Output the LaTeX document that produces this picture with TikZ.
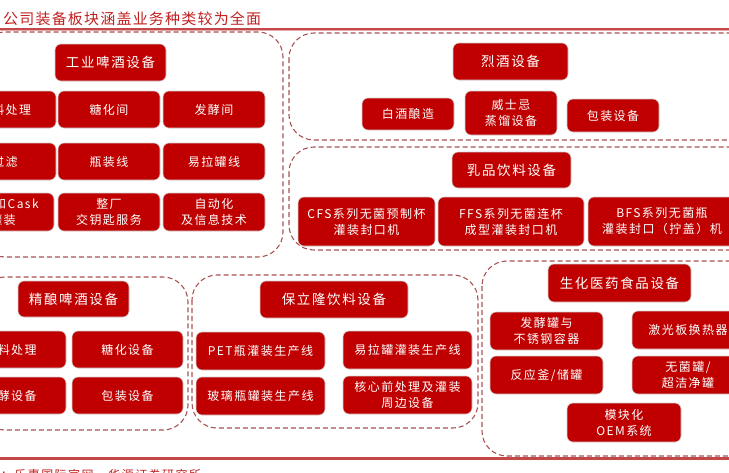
\documentclass[tikz,border=0pt]{standalone}
\usepackage{fontspec}
\newfontfamily\cjk[LetterSpace=12]{Noto Sans CJK SC}
\newfontfamily\cjktitle[LetterSpace=8]{Noto Sans CJK SC}
\definecolor{boxred}{RGB}{192,0,0}
\definecolor{frameC}{RGB}{168,82,82}
\definecolor{titleR}{RGB}{192,32,32}
\definecolor{lineR}{RGB}{196,72,72}
\tikzset{
  redbox/.style={draw=gray!35, line width=0.6pt, fill=boxred, rounded corners=6pt,
    text=white, align=center, inner sep=0pt, font=\cjk\fontsize{12}{16}\selectfont},
  headbox/.style={redbox, font=\cjk\fontsize{13.5}{16}\selectfont},
  groupframe/.style={draw=frameC, line width=1.1pt, dash pattern=on 5pt off 3pt, rounded corners=25pt},
}
\begin{document}
\begin{tikzpicture}[x=1pt, y=-1pt, line cap=butt]
\useasboundingbox (0,0) rectangle (729,472);
\clip (0,0) rectangle (729,472);
% 标题与红线
\node[anchor=base west, text=titleR, inner sep=0pt, font=\cjktitle\fontsize{15}{18}\selectfont] (title) at (3,24) {公司装备板块涵盖业务种类较为全面};
\draw[lineR, line width=1.4pt] (0,29) -- (729,29);
\draw[lineR!45, line width=0.8pt] (0,30.8) -- (729,30.8);
% 虚线分组框
\draw[groupframe] (-20,32) rectangle (283,257);
\draw[groupframe] (289,33) rectangle (760,140);
\draw[groupframe] (289,147) rectangle (760,250);
\draw[groupframe] (-20,277) rectangle (188,430);
\draw[groupframe] (192,275) rectangle (478,428);
\draw[groupframe] (482,261) rectangle (760,456);
% 工业啤酒设备
\node[headbox, minimum width=111pt, minimum height=37pt] (beerHead) at (110.5,62.5) {工业啤酒设备};
\node[redbox, minimum width=102pt, minimum height=37pt] (beerMalt) at (5,109.5) {原料处理};
\node[redbox, minimum width=102pt, minimum height=37pt] (beerMash) at (109,109.5) {糖化间};
\node[redbox, minimum width=102pt, minimum height=37pt] (beerFerm) at (214,109.5) {发酵间};
\node[redbox, minimum width=102pt, minimum height=37pt] (beerFilt) at (5,161.5) {过滤};
\node[redbox, minimum width=102pt, minimum height=37pt] (beerBottle) at (109,161.5) {瓶装线};
\node[redbox, minimum width=102pt, minimum height=37pt] (beerCan) at (214,161.5) {易拉罐线};
\node[redbox, minimum width=102pt, minimum height=38pt] (beerKeg) at (3,212) {桶装和Cask\\灌装};
\node[redbox, minimum width=102pt, minimum height=38pt] (beerTurnkey) at (109,212) {整厂\\交钥匙服务};
\node[redbox, minimum width=102pt, minimum height=38pt] (beerAuto) at (214,212) {自动化\\及信息技术};
% 烈酒设备
\node[headbox, minimum width=115pt, minimum height=37pt] (spiritHead) at (510.5,61.5) {烈酒设备};
\node[redbox, minimum width=92pt, minimum height=32pt] (spiritBaijiu) at (408,114) {白酒酿造};
\node[redbox, minimum width=92pt, minimum height=44pt] (spiritWhisky) at (511,113) {威士忌\\蒸馏设备};
\node[redbox, minimum width=92pt, minimum height=33pt] (spiritPack) at (613,115.5) {包装设备};
% 乳品饮料设备
\node[headbox, minimum width=119pt, minimum height=36pt] (dairyHead) at (511.5,170) {乳品饮料设备};
\node[redbox, minimum width=137pt, minimum height=49pt] (dairyCFS) at (366.5,221.5) {CFS系列无菌预制杯\\灌装封口机};
\node[redbox, minimum width=146pt, minimum height=49pt] (dairyFFS) at (511,221.5) {FFS系列无菌连杯\\成型灌装封口机};
\node[redbox, minimum width=148pt, minimum height=49pt] (dairyBFS) at (662,221.5) {BFS系列无菌瓶\\灌装封口（拧盖）机};
% 精酿啤酒设备
\node[headbox, minimum width=111pt, minimum height=36pt] (craftHead) at (73.5,299) {精酿啤酒设备};
\node[redbox, minimum width=111pt, minimum height=37pt] (craftMalt) at (10.5,349.5) {原料处理};
\node[redbox, minimum width=111pt, minimum height=37pt] (craftMash) at (127.5,349.5) {糖化设备};
\node[redbox, minimum width=111pt, minimum height=37pt] (craftFerm) at (10.5,395.5) {发酵设备};
\node[redbox, minimum width=111pt, minimum height=37pt] (craftPack) at (127.5,395.5) {包装设备};
% 保立隆饮料设备
\node[headbox, minimum width=148pt, minimum height=37pt] (bllHead) at (334,299.5) {保立隆饮料设备};
\node[redbox, minimum width=129pt, minimum height=38pt] (bllPET) at (260.5,351) {PET瓶灌装生产线};
\node[redbox, minimum width=129pt, minimum height=38pt] (bllCan) at (407.5,350) {易拉罐灌装生产线};
\node[redbox, minimum width=129pt, minimum height=38pt] (bllGlass) at (260.5,396) {玻璃瓶罐装生产线};
\node[redbox, minimum width=129pt, minimum height=38pt] (bllCore) at (407.5,395) {核心前处理及灌装\\周边设备};
% 生化医药食品设备
\node[headbox, minimum width=143pt, minimum height=38pt] (bioHead) at (619.5,283) {生化医药食品设备};
\node[redbox, minimum width=113pt, minimum height=38pt] (bioTank) at (546.5,331) {发酵罐与\\不锈钢容器};
\node[redbox, minimum width=112pt, minimum height=38pt] (bioLaser) at (688,330) {激光板换热器};
\node[redbox, minimum width=113pt, minimum height=38pt] (bioReact) at (546.5,375) {反应釜/储罐};
\node[redbox, minimum width=112pt, minimum height=38pt] (bioSteril) at (688,375) {无菌罐/\\超洁净罐};
\node[redbox, minimum width=114pt, minimum height=39pt] (bioOEM) at (624,422.5) {模块化\\OEM系统};
% 底部红线与资料来源
\draw[lineR, line width=2.4pt] (0,458.5) -- (729,458.5);
\node[anchor=base west, text=titleR, inner sep=0pt, font=\cjk\fontsize{12}{14}\selectfont] (source) at (-53,479) {资料来源：乐惠国际官网，华源证券研究所};
\end{tikzpicture}
\end{document}
